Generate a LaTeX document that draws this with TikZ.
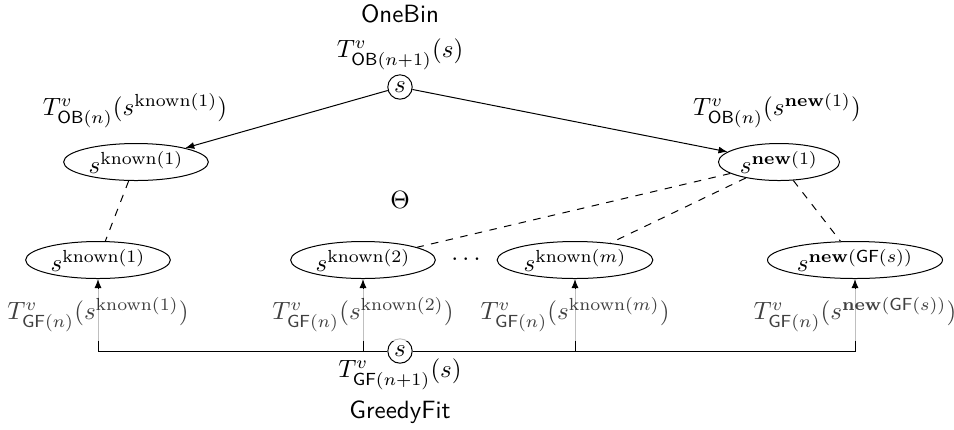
\documentclass[tikz,border=0pt]{standalone}
\usetikzlibrary{shapes.geometric,arrows.meta}
\begin{document}
\begin{tikzpicture}[x=0.4pt,y=-0.4pt,
  ell/.style={draw, ellipse, inner xsep=1.5pt, inner ysep=0pt, minimum height=14.8pt},
  circ/.style={draw, circle, inner sep=1.2pt},
  lab/.style={fill=white, fill opacity=0.75},
  arr/.style={-{Latex[length=3.6pt,width=2.8pt]}},
  link/.style={dashed}]
\useasboundingbox (0,0) rectangle (954,429);
% top
\node (onebin) at (400,14) {\textsf{OneBin}};
\node (ob) at (400,87) [circ] {$s$};
\node (obl) at (400,54) {$T^v_{\mathsf{OB}(n+1)}(s)$};
\node (ok1) at (136,162) [ell] {$s^{\mathrm{known}(1)}$};
\node (nw1) at (779,162) [ell] {$s^{\mathbf{new}(1)}$};
\node (ok1l) at (135,111) {$T^v_{\mathsf{OB}(n)}(s^{\mathrm{known}(1)})$};
\node (nw1l) at (777,111) {$T^v_{\mathsf{OB}(n)}(s^{\mathbf{new}(1)})$};
\node (theta) at (400,200) {$\Theta$};
% bottom row
\node (b1) at (98,260) [ell] {$s^{\mathrm{known}(1)}$};
\node (b2) at (363,260) [ell] {$s^{\mathrm{known}(2)}$};
\node (dots) at (466,259) {$\ldots$};
\node (bm) at (575,260) [ell] {$s^{\mathrm{known}(m)}$};
\node (bn) at (855,260) [ell] {$s^{\mathbf{new}(\mathsf{GF}(s))}$};
\node (gfs) at (400,351) [circ] {$s$};
\node (gfl) at (400,374) {$T^v_{\mathsf{GF}(n+1)}(s)$};
\node (greedy) at (400,412) {\textsf{GreedyFit}};
% connectors
\draw[arr] (ob) -- (ok1);
\draw[arr] (ob) -- (nw1);
\draw[link] (ok1) -- (b1);
\draw[link] (nw1) -- (b2);
\draw[link] (nw1) -- (bm);
\draw[link] (nw1) -- (bn);
\draw[arr] (gfs) -| node[lab,pos=0.75] {$T^v_{\mathsf{GF}(n)}(s^{\mathrm{known}(1)})$} (b1);
\draw[arr] (gfs) -| node[lab,pos=0.75] {$T^v_{\mathsf{GF}(n)}(s^{\mathrm{known}(2)})$} (b2);
\draw[arr] (gfs) -| node[lab,pos=0.75] {$T^v_{\mathsf{GF}(n)}(s^{\mathrm{known}(m)})$} (bm);
\draw[arr] (gfs) -| node[lab,pos=0.75] {$T^v_{\mathsf{GF}(n)}(s^{\mathbf{new}(\mathsf{GF}(s))})$} (bn);
\end{tikzpicture}
\end{document}
